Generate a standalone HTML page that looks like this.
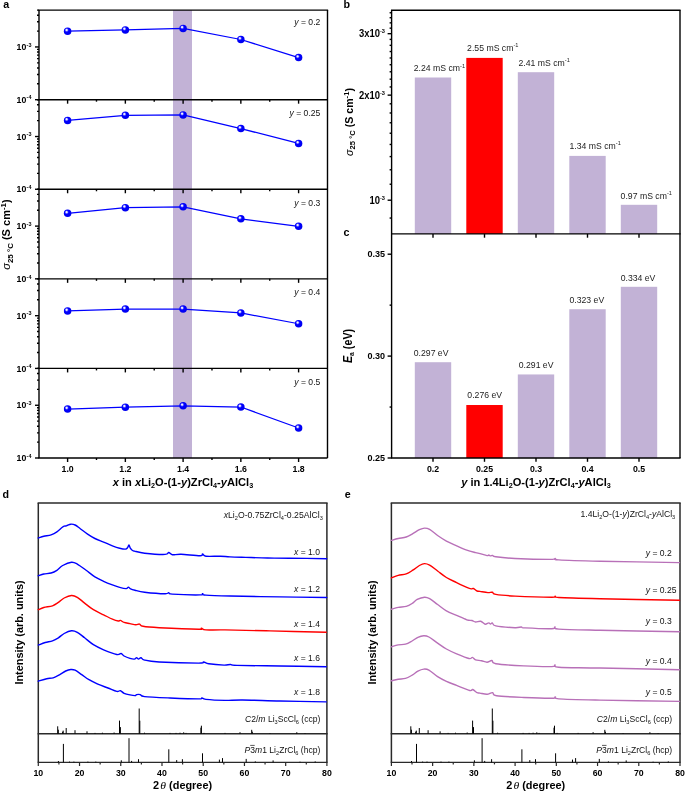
<!DOCTYPE html><html><head><meta charset="utf-8"><style>html,body{margin:0;padding:0;background:#fff;}svg{display:block;font-family:"Liberation Sans",sans-serif;will-change:transform;}</style></head><body><svg width="685" height="792" viewBox="0 0 685 792" font-family="Liberation Sans, sans-serif">
<defs><radialGradient id="sph" cx="0.4" cy="0.38" r="0.62" fx="0.36" fy="0.33"><stop offset="0" stop-color="#FFFFFF"/><stop offset="0.16" stop-color="#E0E0FF"/><stop offset="0.3" stop-color="#5050FF"/><stop offset="0.45" stop-color="#0000FF"/><stop offset="1" stop-color="#0000EE"/></radialGradient></defs>
<rect width="685" height="792" fill="#fff"/>
<rect x="173" y="10.1" width="19" height="447.9" fill="#C2B2D6"/>
<line x1="35" y1="99.68" x2="39" y2="99.68" stroke="#000" stroke-width="1.4"/>
<line x1="37" y1="83.81" x2="39" y2="83.81" stroke="#000" stroke-width="1.4"/>
<line x1="37" y1="74.52" x2="39" y2="74.52" stroke="#000" stroke-width="1.4"/>
<line x1="37" y1="67.94" x2="39" y2="67.94" stroke="#000" stroke-width="1.4"/>
<line x1="37" y1="62.83" x2="39" y2="62.83" stroke="#000" stroke-width="1.4"/>
<line x1="37" y1="58.65" x2="39" y2="58.65" stroke="#000" stroke-width="1.4"/>
<line x1="37" y1="55.12" x2="39" y2="55.12" stroke="#000" stroke-width="1.4"/>
<line x1="37" y1="52.06" x2="39" y2="52.06" stroke="#000" stroke-width="1.4"/>
<line x1="37" y1="49.37" x2="39" y2="49.37" stroke="#000" stroke-width="1.4"/>
<line x1="35" y1="46.95" x2="39" y2="46.95" stroke="#000" stroke-width="1.4"/>
<line x1="37" y1="31.08" x2="39" y2="31.08" stroke="#000" stroke-width="1.4"/>
<line x1="37" y1="21.8" x2="39" y2="21.8" stroke="#000" stroke-width="1.4"/>
<line x1="37" y1="15.21" x2="39" y2="15.21" stroke="#000" stroke-width="1.4"/>
<line x1="37" y1="10.1" x2="39" y2="10.1" stroke="#000" stroke-width="1.4"/>
<text transform="translate(26.3,50.15) scale(0.975,1.07)" font-size="9" text-anchor="end" font-weight="bold" font-style="normal" >10</text>
<text transform="translate(26.6,46.65) scale(0.975,1.07)" font-size="5.6" text-anchor="start" font-weight="bold" font-style="normal" >-3</text>
<text transform="translate(26.3,102.88) scale(0.975,1.07)" font-size="9" text-anchor="end" font-weight="bold" font-style="normal" >10</text>
<text transform="translate(26.6,99.38) scale(0.975,1.07)" font-size="5.6" text-anchor="start" font-weight="bold" font-style="normal" >-4</text>
<line x1="67.6" y1="99.68" x2="67.6" y2="103.68" stroke="#000" stroke-width="1.4"/>
<line x1="96.48" y1="99.68" x2="96.48" y2="101.68" stroke="#000" stroke-width="1.4"/>
<line x1="125.35" y1="99.68" x2="125.35" y2="103.68" stroke="#000" stroke-width="1.4"/>
<line x1="154.23" y1="99.68" x2="154.23" y2="101.68" stroke="#000" stroke-width="1.4"/>
<line x1="183.1" y1="99.68" x2="183.1" y2="103.68" stroke="#000" stroke-width="1.4"/>
<line x1="211.97" y1="99.68" x2="211.97" y2="101.68" stroke="#000" stroke-width="1.4"/>
<line x1="240.85" y1="99.68" x2="240.85" y2="103.68" stroke="#000" stroke-width="1.4"/>
<line x1="269.73" y1="99.68" x2="269.73" y2="101.68" stroke="#000" stroke-width="1.4"/>
<line x1="298.6" y1="99.68" x2="298.6" y2="103.68" stroke="#000" stroke-width="1.4"/>
<polyline points="67.6,31.2 125.35,29.9 183.1,28.4 240.85,39.5 298.6,57.6" fill="none" stroke="#0000FF" stroke-width="1.25"/>
<circle cx="67.6" cy="31.2" r="3.75" fill="url(#sph)"/>
<circle cx="125.35" cy="29.9" r="3.75" fill="url(#sph)"/>
<circle cx="183.1" cy="28.4" r="3.75" fill="url(#sph)"/>
<circle cx="240.85" cy="39.5" r="3.75" fill="url(#sph)"/>
<circle cx="298.6" cy="57.6" r="3.75" fill="url(#sph)"/>
<text transform="translate(320.3,24.9) scale(0.975,1.07)" font-size="8.8" text-anchor="end" fill="#111"><tspan font-style="italic">y</tspan> = 0.2</text>
<line x1="38.4" y1="99.68" x2="327.5" y2="99.68" stroke="#000" stroke-width="1.4"/>
<line x1="35" y1="189.26" x2="39" y2="189.26" stroke="#000" stroke-width="1.4"/>
<line x1="37" y1="173.39" x2="39" y2="173.39" stroke="#000" stroke-width="1.4"/>
<line x1="37" y1="164.1" x2="39" y2="164.1" stroke="#000" stroke-width="1.4"/>
<line x1="37" y1="157.52" x2="39" y2="157.52" stroke="#000" stroke-width="1.4"/>
<line x1="37" y1="152.41" x2="39" y2="152.41" stroke="#000" stroke-width="1.4"/>
<line x1="37" y1="148.23" x2="39" y2="148.23" stroke="#000" stroke-width="1.4"/>
<line x1="37" y1="144.7" x2="39" y2="144.7" stroke="#000" stroke-width="1.4"/>
<line x1="37" y1="141.64" x2="39" y2="141.64" stroke="#000" stroke-width="1.4"/>
<line x1="37" y1="138.95" x2="39" y2="138.95" stroke="#000" stroke-width="1.4"/>
<line x1="35" y1="136.53" x2="39" y2="136.53" stroke="#000" stroke-width="1.4"/>
<line x1="37" y1="120.66" x2="39" y2="120.66" stroke="#000" stroke-width="1.4"/>
<line x1="37" y1="111.38" x2="39" y2="111.38" stroke="#000" stroke-width="1.4"/>
<line x1="37" y1="104.79" x2="39" y2="104.79" stroke="#000" stroke-width="1.4"/>
<line x1="37" y1="99.68" x2="39" y2="99.68" stroke="#000" stroke-width="1.4"/>
<text transform="translate(26.3,139.73) scale(0.975,1.07)" font-size="9" text-anchor="end" font-weight="bold" font-style="normal" >10</text>
<text transform="translate(26.6,136.23) scale(0.975,1.07)" font-size="5.6" text-anchor="start" font-weight="bold" font-style="normal" >-3</text>
<text transform="translate(26.3,192.46) scale(0.975,1.07)" font-size="9" text-anchor="end" font-weight="bold" font-style="normal" >10</text>
<text transform="translate(26.6,188.96) scale(0.975,1.07)" font-size="5.6" text-anchor="start" font-weight="bold" font-style="normal" >-4</text>
<line x1="67.6" y1="189.26" x2="67.6" y2="193.26" stroke="#000" stroke-width="1.4"/>
<line x1="96.48" y1="189.26" x2="96.48" y2="191.26" stroke="#000" stroke-width="1.4"/>
<line x1="125.35" y1="189.26" x2="125.35" y2="193.26" stroke="#000" stroke-width="1.4"/>
<line x1="154.23" y1="189.26" x2="154.23" y2="191.26" stroke="#000" stroke-width="1.4"/>
<line x1="183.1" y1="189.26" x2="183.1" y2="193.26" stroke="#000" stroke-width="1.4"/>
<line x1="211.97" y1="189.26" x2="211.97" y2="191.26" stroke="#000" stroke-width="1.4"/>
<line x1="240.85" y1="189.26" x2="240.85" y2="193.26" stroke="#000" stroke-width="1.4"/>
<line x1="269.73" y1="189.26" x2="269.73" y2="191.26" stroke="#000" stroke-width="1.4"/>
<line x1="298.6" y1="189.26" x2="298.6" y2="193.26" stroke="#000" stroke-width="1.4"/>
<polyline points="67.6,120.48 125.35,115.28 183.1,114.88 240.85,128.58 298.6,143.48" fill="none" stroke="#0000FF" stroke-width="1.25"/>
<circle cx="67.6" cy="120.48" r="3.75" fill="url(#sph)"/>
<circle cx="125.35" cy="115.28" r="3.75" fill="url(#sph)"/>
<circle cx="183.1" cy="114.88" r="3.75" fill="url(#sph)"/>
<circle cx="240.85" cy="128.58" r="3.75" fill="url(#sph)"/>
<circle cx="298.6" cy="143.48" r="3.75" fill="url(#sph)"/>
<text transform="translate(320.3,116.1) scale(0.975,1.07)" font-size="8.8" text-anchor="end" fill="#111"><tspan font-style="italic">y</tspan> = 0.25</text>
<line x1="38.4" y1="189.26" x2="327.5" y2="189.26" stroke="#000" stroke-width="1.4"/>
<line x1="35" y1="278.84" x2="39" y2="278.84" stroke="#000" stroke-width="1.4"/>
<line x1="37" y1="262.97" x2="39" y2="262.97" stroke="#000" stroke-width="1.4"/>
<line x1="37" y1="253.68" x2="39" y2="253.68" stroke="#000" stroke-width="1.4"/>
<line x1="37" y1="247.1" x2="39" y2="247.1" stroke="#000" stroke-width="1.4"/>
<line x1="37" y1="241.99" x2="39" y2="241.99" stroke="#000" stroke-width="1.4"/>
<line x1="37" y1="237.81" x2="39" y2="237.81" stroke="#000" stroke-width="1.4"/>
<line x1="37" y1="234.28" x2="39" y2="234.28" stroke="#000" stroke-width="1.4"/>
<line x1="37" y1="231.22" x2="39" y2="231.22" stroke="#000" stroke-width="1.4"/>
<line x1="37" y1="228.53" x2="39" y2="228.53" stroke="#000" stroke-width="1.4"/>
<line x1="35" y1="226.11" x2="39" y2="226.11" stroke="#000" stroke-width="1.4"/>
<line x1="37" y1="210.24" x2="39" y2="210.24" stroke="#000" stroke-width="1.4"/>
<line x1="37" y1="200.96" x2="39" y2="200.96" stroke="#000" stroke-width="1.4"/>
<line x1="37" y1="194.37" x2="39" y2="194.37" stroke="#000" stroke-width="1.4"/>
<line x1="37" y1="189.26" x2="39" y2="189.26" stroke="#000" stroke-width="1.4"/>
<text transform="translate(26.3,229.31) scale(0.975,1.07)" font-size="9" text-anchor="end" font-weight="bold" font-style="normal" >10</text>
<text transform="translate(26.6,225.81) scale(0.975,1.07)" font-size="5.6" text-anchor="start" font-weight="bold" font-style="normal" >-3</text>
<text transform="translate(26.3,282.04) scale(0.975,1.07)" font-size="9" text-anchor="end" font-weight="bold" font-style="normal" >10</text>
<text transform="translate(26.6,278.54) scale(0.975,1.07)" font-size="5.6" text-anchor="start" font-weight="bold" font-style="normal" >-4</text>
<line x1="67.6" y1="278.84" x2="67.6" y2="282.84" stroke="#000" stroke-width="1.4"/>
<line x1="96.48" y1="278.84" x2="96.48" y2="280.84" stroke="#000" stroke-width="1.4"/>
<line x1="125.35" y1="278.84" x2="125.35" y2="282.84" stroke="#000" stroke-width="1.4"/>
<line x1="154.23" y1="278.84" x2="154.23" y2="280.84" stroke="#000" stroke-width="1.4"/>
<line x1="183.1" y1="278.84" x2="183.1" y2="282.84" stroke="#000" stroke-width="1.4"/>
<line x1="211.97" y1="278.84" x2="211.97" y2="280.84" stroke="#000" stroke-width="1.4"/>
<line x1="240.85" y1="278.84" x2="240.85" y2="282.84" stroke="#000" stroke-width="1.4"/>
<line x1="269.73" y1="278.84" x2="269.73" y2="280.84" stroke="#000" stroke-width="1.4"/>
<line x1="298.6" y1="278.84" x2="298.6" y2="282.84" stroke="#000" stroke-width="1.4"/>
<polyline points="67.6,213.36 125.35,207.66 183.1,206.86 240.85,218.86 298.6,226.26" fill="none" stroke="#0000FF" stroke-width="1.25"/>
<circle cx="67.6" cy="213.36" r="3.75" fill="url(#sph)"/>
<circle cx="125.35" cy="207.66" r="3.75" fill="url(#sph)"/>
<circle cx="183.1" cy="206.86" r="3.75" fill="url(#sph)"/>
<circle cx="240.85" cy="218.86" r="3.75" fill="url(#sph)"/>
<circle cx="298.6" cy="226.26" r="3.75" fill="url(#sph)"/>
<text transform="translate(320.3,206.1) scale(0.975,1.07)" font-size="8.8" text-anchor="end" fill="#111"><tspan font-style="italic">y</tspan> = 0.3</text>
<line x1="38.4" y1="278.84" x2="327.5" y2="278.84" stroke="#000" stroke-width="1.4"/>
<line x1="35" y1="368.42" x2="39" y2="368.42" stroke="#000" stroke-width="1.4"/>
<line x1="37" y1="352.55" x2="39" y2="352.55" stroke="#000" stroke-width="1.4"/>
<line x1="37" y1="343.26" x2="39" y2="343.26" stroke="#000" stroke-width="1.4"/>
<line x1="37" y1="336.68" x2="39" y2="336.68" stroke="#000" stroke-width="1.4"/>
<line x1="37" y1="331.57" x2="39" y2="331.57" stroke="#000" stroke-width="1.4"/>
<line x1="37" y1="327.39" x2="39" y2="327.39" stroke="#000" stroke-width="1.4"/>
<line x1="37" y1="323.86" x2="39" y2="323.86" stroke="#000" stroke-width="1.4"/>
<line x1="37" y1="320.8" x2="39" y2="320.8" stroke="#000" stroke-width="1.4"/>
<line x1="37" y1="318.11" x2="39" y2="318.11" stroke="#000" stroke-width="1.4"/>
<line x1="35" y1="315.69" x2="39" y2="315.69" stroke="#000" stroke-width="1.4"/>
<line x1="37" y1="299.82" x2="39" y2="299.82" stroke="#000" stroke-width="1.4"/>
<line x1="37" y1="290.54" x2="39" y2="290.54" stroke="#000" stroke-width="1.4"/>
<line x1="37" y1="283.95" x2="39" y2="283.95" stroke="#000" stroke-width="1.4"/>
<line x1="37" y1="278.84" x2="39" y2="278.84" stroke="#000" stroke-width="1.4"/>
<text transform="translate(26.3,318.89) scale(0.975,1.07)" font-size="9" text-anchor="end" font-weight="bold" font-style="normal" >10</text>
<text transform="translate(26.6,315.39) scale(0.975,1.07)" font-size="5.6" text-anchor="start" font-weight="bold" font-style="normal" >-3</text>
<text transform="translate(26.3,371.62) scale(0.975,1.07)" font-size="9" text-anchor="end" font-weight="bold" font-style="normal" >10</text>
<text transform="translate(26.6,368.12) scale(0.975,1.07)" font-size="5.6" text-anchor="start" font-weight="bold" font-style="normal" >-4</text>
<line x1="67.6" y1="368.42" x2="67.6" y2="372.42" stroke="#000" stroke-width="1.4"/>
<line x1="96.48" y1="368.42" x2="96.48" y2="370.42" stroke="#000" stroke-width="1.4"/>
<line x1="125.35" y1="368.42" x2="125.35" y2="372.42" stroke="#000" stroke-width="1.4"/>
<line x1="154.23" y1="368.42" x2="154.23" y2="370.42" stroke="#000" stroke-width="1.4"/>
<line x1="183.1" y1="368.42" x2="183.1" y2="372.42" stroke="#000" stroke-width="1.4"/>
<line x1="211.97" y1="368.42" x2="211.97" y2="370.42" stroke="#000" stroke-width="1.4"/>
<line x1="240.85" y1="368.42" x2="240.85" y2="372.42" stroke="#000" stroke-width="1.4"/>
<line x1="269.73" y1="368.42" x2="269.73" y2="370.42" stroke="#000" stroke-width="1.4"/>
<line x1="298.6" y1="368.42" x2="298.6" y2="372.42" stroke="#000" stroke-width="1.4"/>
<polyline points="67.6,310.94 125.35,309.04 183.1,309.04 240.85,312.94 298.6,323.74" fill="none" stroke="#0000FF" stroke-width="1.25"/>
<circle cx="67.6" cy="310.94" r="3.75" fill="url(#sph)"/>
<circle cx="125.35" cy="309.04" r="3.75" fill="url(#sph)"/>
<circle cx="183.1" cy="309.04" r="3.75" fill="url(#sph)"/>
<circle cx="240.85" cy="312.94" r="3.75" fill="url(#sph)"/>
<circle cx="298.6" cy="323.74" r="3.75" fill="url(#sph)"/>
<text transform="translate(320.3,295.4) scale(0.975,1.07)" font-size="8.8" text-anchor="end" fill="#111"><tspan font-style="italic">y</tspan> = 0.4</text>
<line x1="38.4" y1="368.42" x2="327.5" y2="368.42" stroke="#000" stroke-width="1.4"/>
<line x1="35" y1="458" x2="39" y2="458" stroke="#000" stroke-width="1.4"/>
<line x1="37" y1="442.13" x2="39" y2="442.13" stroke="#000" stroke-width="1.4"/>
<line x1="37" y1="432.84" x2="39" y2="432.84" stroke="#000" stroke-width="1.4"/>
<line x1="37" y1="426.26" x2="39" y2="426.26" stroke="#000" stroke-width="1.4"/>
<line x1="37" y1="421.15" x2="39" y2="421.15" stroke="#000" stroke-width="1.4"/>
<line x1="37" y1="416.97" x2="39" y2="416.97" stroke="#000" stroke-width="1.4"/>
<line x1="37" y1="413.44" x2="39" y2="413.44" stroke="#000" stroke-width="1.4"/>
<line x1="37" y1="410.38" x2="39" y2="410.38" stroke="#000" stroke-width="1.4"/>
<line x1="37" y1="407.69" x2="39" y2="407.69" stroke="#000" stroke-width="1.4"/>
<line x1="35" y1="405.27" x2="39" y2="405.27" stroke="#000" stroke-width="1.4"/>
<line x1="37" y1="389.4" x2="39" y2="389.4" stroke="#000" stroke-width="1.4"/>
<line x1="37" y1="380.12" x2="39" y2="380.12" stroke="#000" stroke-width="1.4"/>
<line x1="37" y1="373.53" x2="39" y2="373.53" stroke="#000" stroke-width="1.4"/>
<line x1="37" y1="368.42" x2="39" y2="368.42" stroke="#000" stroke-width="1.4"/>
<text transform="translate(26.3,408.47) scale(0.975,1.07)" font-size="9" text-anchor="end" font-weight="bold" font-style="normal" >10</text>
<text transform="translate(26.6,404.97) scale(0.975,1.07)" font-size="5.6" text-anchor="start" font-weight="bold" font-style="normal" >-3</text>
<text transform="translate(26.3,461.2) scale(0.975,1.07)" font-size="9" text-anchor="end" font-weight="bold" font-style="normal" >10</text>
<text transform="translate(26.6,457.7) scale(0.975,1.07)" font-size="5.6" text-anchor="start" font-weight="bold" font-style="normal" >-4</text>
<line x1="67.6" y1="458" x2="67.6" y2="462" stroke="#000" stroke-width="1.4"/>
<line x1="96.48" y1="458" x2="96.48" y2="460" stroke="#000" stroke-width="1.4"/>
<line x1="125.35" y1="458" x2="125.35" y2="462" stroke="#000" stroke-width="1.4"/>
<line x1="154.23" y1="458" x2="154.23" y2="460" stroke="#000" stroke-width="1.4"/>
<line x1="183.1" y1="458" x2="183.1" y2="462" stroke="#000" stroke-width="1.4"/>
<line x1="211.97" y1="458" x2="211.97" y2="460" stroke="#000" stroke-width="1.4"/>
<line x1="240.85" y1="458" x2="240.85" y2="462" stroke="#000" stroke-width="1.4"/>
<line x1="269.73" y1="458" x2="269.73" y2="460" stroke="#000" stroke-width="1.4"/>
<line x1="298.6" y1="458" x2="298.6" y2="462" stroke="#000" stroke-width="1.4"/>
<polyline points="67.6,409.02 125.35,407.22 183.1,405.82 240.85,407.02 298.6,428.02" fill="none" stroke="#0000FF" stroke-width="1.25"/>
<circle cx="67.6" cy="409.02" r="3.75" fill="url(#sph)"/>
<circle cx="125.35" cy="407.22" r="3.75" fill="url(#sph)"/>
<circle cx="183.1" cy="405.82" r="3.75" fill="url(#sph)"/>
<circle cx="240.85" cy="407.02" r="3.75" fill="url(#sph)"/>
<circle cx="298.6" cy="428.02" r="3.75" fill="url(#sph)"/>
<text transform="translate(320.3,384.8) scale(0.975,1.07)" font-size="8.8" text-anchor="end" fill="#111"><tspan font-style="italic">y</tspan> = 0.5</text>
<line x1="38.4" y1="458" x2="327.5" y2="458" stroke="#000" stroke-width="1.4"/>
<line x1="38.4" y1="10.1" x2="328.1" y2="10.1" stroke="#000" stroke-width="1.4"/>
<line x1="39" y1="10.1" x2="39" y2="458" stroke="#000" stroke-width="1.4"/>
<line x1="327.5" y1="10.1" x2="327.5" y2="458" stroke="#000" stroke-width="1.4"/>
<text transform="translate(67.6,472.3) scale(0.975,1.07)" font-size="9" text-anchor="middle" font-weight="bold" font-style="normal" >1.0</text>
<text transform="translate(125.35,472.3) scale(0.975,1.07)" font-size="9" text-anchor="middle" font-weight="bold" font-style="normal" >1.2</text>
<text transform="translate(183.1,472.3) scale(0.975,1.07)" font-size="9" text-anchor="middle" font-weight="bold" font-style="normal" >1.4</text>
<text transform="translate(240.85,472.3) scale(0.975,1.07)" font-size="9" text-anchor="middle" font-weight="bold" font-style="normal" >1.6</text>
<text transform="translate(298.6,472.3) scale(0.975,1.07)" font-size="9" text-anchor="middle" font-weight="bold" font-style="normal" >1.8</text>
<text transform="translate(183,485.8) scale(0.975,0.88)" font-size="11.4" font-weight="bold" text-anchor="middle" class="t"><tspan font-style="italic">x</tspan> in <tspan font-style="italic">x</tspan>Li<tspan font-size="7.4" dy="3">2</tspan><tspan dy="-3">O-(1-</tspan><tspan font-style="italic">y</tspan>)ZrCl<tspan font-size="7.4" dy="3">4</tspan><tspan dy="-3">-</tspan><tspan font-style="italic">y</tspan>AlCl<tspan font-size="7.4" dy="3">3</tspan></text>
<text transform="translate(9.9,234.6) rotate(-90)" x="0" y="0" font-size="11.0" font-weight="bold" text-anchor="middle"><tspan font-style="italic" font-weight="normal" font-size="11.22">σ</tspan><tspan font-size="7.96" dy="2.6">25 °C</tspan><tspan dy="-2.6"> (S cm</tspan><tspan font-size="7.96" dy="-4">-1</tspan><tspan dy="4">)</tspan></text>
<text transform="translate(3.3,8.1) scale(0.975,1.07)" font-size="11" text-anchor="start" font-weight="bold" font-style="normal" >a</text>
<rect x="414.8" y="77.5" width="36.4" height="156.4" fill="#C2B2D6"/>
<rect x="466.3" y="57.9" width="36.4" height="176" fill="#FF0000"/>
<rect x="517.8" y="72.2" width="36.4" height="161.7" fill="#C2B2D6"/>
<rect x="569.3" y="155.9" width="36.4" height="78" fill="#C2B2D6"/>
<rect x="620.8" y="204.8" width="36.4" height="29.1" fill="#C2B2D6"/>
<text transform="translate(413.7,71.4) scale(0.975,1.07)" font-size="8.9" text-anchor="start" fill="#222">2.24 mS cm<tspan font-size="5.8" dy="-3.4">-1</tspan></text>
<text transform="translate(467.1,50.7) scale(0.975,1.07)" font-size="8.9" text-anchor="start" fill="#222">2.55 mS cm<tspan font-size="5.8" dy="-3.4">-1</tspan></text>
<text transform="translate(518.5,66.1) scale(0.975,1.07)" font-size="8.9" text-anchor="start" fill="#222">2.41 mS cm<tspan font-size="5.8" dy="-3.4">-1</tspan></text>
<text transform="translate(569.45,148.9) scale(0.975,1.07)" font-size="8.9" text-anchor="start" fill="#222">1.34 mS cm<tspan font-size="5.8" dy="-3.4">-1</tspan></text>
<text transform="translate(620.6,198.7) scale(0.975,1.07)" font-size="8.9" text-anchor="start" fill="#222">0.97 mS cm<tspan font-size="5.8" dy="-3.4">-1</tspan></text>
<line x1="387.6" y1="200.2" x2="391.6" y2="200.2" stroke="#000" stroke-width="1.4"/>
<line x1="389.6" y1="184.23" x2="391.6" y2="184.23" stroke="#000" stroke-width="1.4"/>
<line x1="389.6" y1="169.78" x2="391.6" y2="169.78" stroke="#000" stroke-width="1.4"/>
<line x1="389.6" y1="156.6" x2="391.6" y2="156.6" stroke="#000" stroke-width="1.4"/>
<line x1="389.6" y1="144.46" x2="391.6" y2="144.46" stroke="#000" stroke-width="1.4"/>
<line x1="389.6" y1="133.23" x2="391.6" y2="133.23" stroke="#000" stroke-width="1.4"/>
<line x1="389.6" y1="122.77" x2="391.6" y2="122.77" stroke="#000" stroke-width="1.4"/>
<line x1="389.6" y1="112.99" x2="391.6" y2="112.99" stroke="#000" stroke-width="1.4"/>
<line x1="389.6" y1="103.8" x2="391.6" y2="103.8" stroke="#000" stroke-width="1.4"/>
<line x1="387.6" y1="95.14" x2="391.6" y2="95.14" stroke="#000" stroke-width="1.4"/>
<line x1="389.6" y1="86.95" x2="391.6" y2="86.95" stroke="#000" stroke-width="1.4"/>
<line x1="389.6" y1="79.17" x2="391.6" y2="79.17" stroke="#000" stroke-width="1.4"/>
<line x1="389.6" y1="71.78" x2="391.6" y2="71.78" stroke="#000" stroke-width="1.4"/>
<line x1="389.6" y1="64.73" x2="391.6" y2="64.73" stroke="#000" stroke-width="1.4"/>
<line x1="389.6" y1="57.99" x2="391.6" y2="57.99" stroke="#000" stroke-width="1.4"/>
<line x1="389.6" y1="51.54" x2="391.6" y2="51.54" stroke="#000" stroke-width="1.4"/>
<line x1="389.6" y1="45.35" x2="391.6" y2="45.35" stroke="#000" stroke-width="1.4"/>
<line x1="389.6" y1="39.4" x2="391.6" y2="39.4" stroke="#000" stroke-width="1.4"/>
<line x1="387.6" y1="33.68" x2="391.6" y2="33.68" stroke="#000" stroke-width="1.4"/>
<line x1="389.6" y1="28.17" x2="391.6" y2="28.17" stroke="#000" stroke-width="1.4"/>
<line x1="389.6" y1="22.85" x2="391.6" y2="22.85" stroke="#000" stroke-width="1.4"/>
<line x1="389.6" y1="17.72" x2="391.6" y2="17.72" stroke="#000" stroke-width="1.4"/>
<line x1="389.6" y1="12.75" x2="391.6" y2="12.75" stroke="#000" stroke-width="1.4"/>
<line x1="389.6" y1="218.05" x2="391.6" y2="218.05" stroke="#000" stroke-width="1.4"/>
<text transform="translate(385,37.08) scale(0.975,1.07)" font-size="9.7" font-weight="bold" text-anchor="end">3x10<tspan font-size="5.8" dy="-3.7">-3</tspan></text>
<text transform="translate(385,98.54) scale(0.975,1.07)" font-size="9.7" font-weight="bold" text-anchor="end">2x10<tspan font-size="5.8" dy="-3.7">-3</tspan></text>
<text transform="translate(385,203.6) scale(0.975,1.07)" font-size="9.7" font-weight="bold" text-anchor="end">10<tspan font-size="5.8" dy="-3.7">-3</tspan></text>
<line x1="433" y1="233.9" x2="433" y2="237.7" stroke="#000" stroke-width="1.4"/>
<line x1="484.5" y1="233.9" x2="484.5" y2="237.7" stroke="#000" stroke-width="1.4"/>
<line x1="536" y1="233.9" x2="536" y2="237.7" stroke="#000" stroke-width="1.4"/>
<line x1="587.5" y1="233.9" x2="587.5" y2="237.7" stroke="#000" stroke-width="1.4"/>
<line x1="639" y1="233.9" x2="639" y2="237.7" stroke="#000" stroke-width="1.4"/>
<line x1="391" y1="10.3" x2="680.6" y2="10.3" stroke="#000" stroke-width="1.4"/>
<line x1="391.6" y1="10.3" x2="391.6" y2="458" stroke="#000" stroke-width="1.4"/>
<line x1="680" y1="10.3" x2="680" y2="458" stroke="#000" stroke-width="1.4"/>
<line x1="391" y1="233.9" x2="680.6" y2="233.9" stroke="#000" stroke-width="1.4"/>
<text transform="translate(352.8,122) rotate(-90)" x="0" y="0" font-size="10.6" font-weight="bold" text-anchor="middle"><tspan font-style="italic" font-weight="normal" font-size="10.81">σ</tspan><tspan font-size="7.67" dy="2.6">25 °C</tspan><tspan dy="-2.6"> (S cm</tspan><tspan font-size="7.67" dy="-4">-1</tspan><tspan dy="4">)</tspan></text>
<text transform="translate(343.4,7.9) scale(0.975,1.07)" font-size="11" text-anchor="start" font-weight="bold" font-style="normal" >b</text>
<rect x="414.8" y="362.21" width="36.4" height="95.79" fill="#C2B2D6"/>
<text transform="translate(413.75,355.8) scale(0.975,1.07)" font-size="8.9" text-anchor="start" font-weight="normal" font-style="normal" fill="#222">0.297 eV</text>
<rect x="466.3" y="405.01" width="36.4" height="52.99" fill="#FF0000"/>
<text transform="translate(467.35,398.1) scale(0.975,1.07)" font-size="8.9" text-anchor="start" font-weight="normal" font-style="normal" fill="#222">0.276 eV</text>
<rect x="517.8" y="374.44" width="36.4" height="83.56" fill="#C2B2D6"/>
<text transform="translate(518.75,367.5) scale(0.975,1.07)" font-size="8.9" text-anchor="start" font-weight="normal" font-style="normal" fill="#222">0.291 eV</text>
<rect x="569.3" y="309.23" width="36.4" height="148.77" fill="#C2B2D6"/>
<text transform="translate(569.45,303.1) scale(0.975,1.07)" font-size="8.9" text-anchor="start" font-weight="normal" font-style="normal" fill="#222">0.323 eV</text>
<rect x="620.8" y="286.81" width="36.4" height="171.19" fill="#C2B2D6"/>
<text transform="translate(620.65,281) scale(0.975,1.07)" font-size="8.9" text-anchor="start" font-weight="normal" font-style="normal" fill="#222">0.334 eV</text>
<line x1="387.6" y1="458" x2="391.6" y2="458" stroke="#000" stroke-width="1.4"/>
<text transform="translate(385,460.6) scale(0.975,1.07)" font-size="9.3" text-anchor="end" font-weight="bold" font-style="normal" >0.25</text>
<line x1="387.6" y1="356.1" x2="391.6" y2="356.1" stroke="#000" stroke-width="1.4"/>
<text transform="translate(385,358.7) scale(0.975,1.07)" font-size="9.3" text-anchor="end" font-weight="bold" font-style="normal" >0.30</text>
<line x1="387.6" y1="254.2" x2="391.6" y2="254.2" stroke="#000" stroke-width="1.4"/>
<text transform="translate(385,256.8) scale(0.975,1.07)" font-size="9.3" text-anchor="end" font-weight="bold" font-style="normal" >0.35</text>
<line x1="389.6" y1="407.05" x2="391.6" y2="407.05" stroke="#000" stroke-width="1.4"/>
<line x1="389.6" y1="305.15" x2="391.6" y2="305.15" stroke="#000" stroke-width="1.4"/>
<line x1="391" y1="458" x2="680.6" y2="458" stroke="#000" stroke-width="1.4"/>
<line x1="433" y1="458" x2="433" y2="461.8" stroke="#000" stroke-width="1.4"/>
<line x1="484.5" y1="458" x2="484.5" y2="461.8" stroke="#000" stroke-width="1.4"/>
<line x1="536" y1="458" x2="536" y2="461.8" stroke="#000" stroke-width="1.4"/>
<line x1="587.5" y1="458" x2="587.5" y2="461.8" stroke="#000" stroke-width="1.4"/>
<line x1="639" y1="458" x2="639" y2="461.8" stroke="#000" stroke-width="1.4"/>
<text transform="translate(433,472.3) scale(0.975,1.07)" font-size="9" text-anchor="middle" font-weight="bold" font-style="normal" >0.2</text>
<text transform="translate(484.5,472.3) scale(0.975,1.07)" font-size="9" text-anchor="middle" font-weight="bold" font-style="normal" >0.25</text>
<text transform="translate(536,472.3) scale(0.975,1.07)" font-size="9" text-anchor="middle" font-weight="bold" font-style="normal" >0.3</text>
<text transform="translate(587.5,472.3) scale(0.975,1.07)" font-size="9" text-anchor="middle" font-weight="bold" font-style="normal" >0.4</text>
<text transform="translate(639,472.3) scale(0.975,1.07)" font-size="9" text-anchor="middle" font-weight="bold" font-style="normal" >0.5</text>
<text transform="translate(536,485.8) scale(0.975,0.88)" font-size="11.4" font-weight="bold" text-anchor="middle" class="t"><tspan font-style="italic">y</tspan> in 1.4Li<tspan font-size="7.4" dy="3">2</tspan><tspan dy="-3">O-(1-</tspan><tspan font-style="italic">y</tspan>)ZrCl<tspan font-size="7.4" dy="3">4</tspan><tspan dy="-3">-</tspan><tspan font-style="italic">y</tspan>AlCl<tspan font-size="7.4" dy="3">3</tspan></text>
<text transform="translate(351.8,346) rotate(-90) scale(0.975,1.15)" font-size="11" font-weight="bold" text-anchor="middle" class="ea"><tspan font-style="italic">E</tspan><tspan font-size="7" dy="1.8">a</tspan><tspan dy="-1.8"> (eV)</tspan></text>
<text transform="translate(343.6,236.3) scale(0.975,1.07)" font-size="11" text-anchor="start" font-weight="bold" font-style="normal" >c</text>
<line x1="37.6" y1="503" x2="327.6" y2="503" stroke="#2a2a2a" stroke-width="1.5"/>
<line x1="38.3" y1="503" x2="38.3" y2="762.4" stroke="#2a2a2a" stroke-width="1.5"/>
<line x1="326.9" y1="503" x2="326.9" y2="762.4" stroke="#2a2a2a" stroke-width="1.5"/>
<line x1="37.6" y1="733.7" x2="327.6" y2="733.7" stroke="#2a2a2a" stroke-width="1.4"/>
<line x1="37.6" y1="762.4" x2="327.6" y2="762.4" stroke="#2a2a2a" stroke-width="1.4"/>
<line x1="38.3" y1="762.4" x2="38.3" y2="766" stroke="#2a2a2a" stroke-width="1.2"/>
<text transform="translate(38.3,776.2) scale(0.975,1.07)" font-size="9" text-anchor="middle" font-weight="bold" font-style="normal" >10</text>
<line x1="58.91" y1="762.4" x2="58.91" y2="764.4" stroke="#2a2a2a" stroke-width="1.2"/>
<line x1="79.53" y1="762.4" x2="79.53" y2="766" stroke="#2a2a2a" stroke-width="1.2"/>
<text transform="translate(79.53,776.2) scale(0.975,1.07)" font-size="9" text-anchor="middle" font-weight="bold" font-style="normal" >20</text>
<line x1="100.15" y1="762.4" x2="100.15" y2="764.4" stroke="#2a2a2a" stroke-width="1.2"/>
<line x1="120.76" y1="762.4" x2="120.76" y2="766" stroke="#2a2a2a" stroke-width="1.2"/>
<text transform="translate(120.76,776.2) scale(0.975,1.07)" font-size="9" text-anchor="middle" font-weight="bold" font-style="normal" >30</text>
<line x1="141.38" y1="762.4" x2="141.38" y2="764.4" stroke="#2a2a2a" stroke-width="1.2"/>
<line x1="161.99" y1="762.4" x2="161.99" y2="766" stroke="#2a2a2a" stroke-width="1.2"/>
<text transform="translate(161.99,776.2) scale(0.975,1.07)" font-size="9" text-anchor="middle" font-weight="bold" font-style="normal" >40</text>
<line x1="182.61" y1="762.4" x2="182.61" y2="764.4" stroke="#2a2a2a" stroke-width="1.2"/>
<line x1="203.22" y1="762.4" x2="203.22" y2="766" stroke="#2a2a2a" stroke-width="1.2"/>
<text transform="translate(203.22,776.2) scale(0.975,1.07)" font-size="9" text-anchor="middle" font-weight="bold" font-style="normal" >50</text>
<line x1="223.83" y1="762.4" x2="223.83" y2="764.4" stroke="#2a2a2a" stroke-width="1.2"/>
<line x1="244.45" y1="762.4" x2="244.45" y2="766" stroke="#2a2a2a" stroke-width="1.2"/>
<text transform="translate(244.45,776.2) scale(0.975,1.07)" font-size="9" text-anchor="middle" font-weight="bold" font-style="normal" >60</text>
<line x1="265.06" y1="762.4" x2="265.06" y2="764.4" stroke="#2a2a2a" stroke-width="1.2"/>
<line x1="285.68" y1="762.4" x2="285.68" y2="766" stroke="#2a2a2a" stroke-width="1.2"/>
<text transform="translate(285.68,776.2) scale(0.975,1.07)" font-size="9" text-anchor="middle" font-weight="bold" font-style="normal" >70</text>
<line x1="306.3" y1="762.4" x2="306.3" y2="764.4" stroke="#2a2a2a" stroke-width="1.2"/>
<line x1="326.91" y1="762.4" x2="326.91" y2="766" stroke="#2a2a2a" stroke-width="1.2"/>
<text transform="translate(326.91,776.2) scale(0.975,1.07)" font-size="9" text-anchor="middle" font-weight="bold" font-style="normal" >80</text>
<line x1="57.7" y1="733.7" x2="57.7" y2="726.3" stroke="#000" stroke-width="1.0"/>
<line x1="58.3" y1="733.7" x2="58.3" y2="729.7" stroke="#000" stroke-width="1.0"/>
<line x1="62.6" y1="733.7" x2="62.6" y2="731.7" stroke="#000" stroke-width="1.0"/>
<line x1="63.2" y1="733.7" x2="63.2" y2="730.6" stroke="#000" stroke-width="1.0"/>
<line x1="66.2" y1="733.7" x2="66.2" y2="728" stroke="#000" stroke-width="1.0"/>
<line x1="75" y1="733.7" x2="75" y2="730.2" stroke="#000" stroke-width="1.0"/>
<line x1="87" y1="733.7" x2="87" y2="731.3" stroke="#000" stroke-width="1.0"/>
<line x1="95" y1="733.7" x2="95" y2="732.9" stroke="#000" stroke-width="1.0"/>
<line x1="102.4" y1="733.7" x2="102.4" y2="732.7" stroke="#000" stroke-width="1.0"/>
<line x1="114.1" y1="733.7" x2="114.1" y2="732.5" stroke="#000" stroke-width="1.0"/>
<line x1="119.5" y1="733.7" x2="119.5" y2="720.6" stroke="#000" stroke-width="1.0"/>
<line x1="120.4" y1="733.7" x2="120.4" y2="727.1" stroke="#000" stroke-width="1.0"/>
<line x1="139.2" y1="733.7" x2="139.2" y2="708.5" stroke="#000" stroke-width="1.0"/>
<line x1="139.8" y1="733.7" x2="139.8" y2="720.7" stroke="#000" stroke-width="1.0"/>
<line x1="144.5" y1="733.7" x2="144.5" y2="732.7" stroke="#000" stroke-width="1.0"/>
<line x1="170" y1="733.7" x2="170" y2="732.9" stroke="#000" stroke-width="1.0"/>
<line x1="176" y1="733.7" x2="176" y2="732.9" stroke="#000" stroke-width="1.0"/>
<line x1="180" y1="733.7" x2="180" y2="732.7" stroke="#000" stroke-width="1.0"/>
<line x1="183.7" y1="733.7" x2="183.7" y2="732.3" stroke="#000" stroke-width="1.0"/>
<line x1="186" y1="733.7" x2="186" y2="732.9" stroke="#000" stroke-width="1.0"/>
<line x1="200.9" y1="733.7" x2="200.9" y2="727.7" stroke="#000" stroke-width="1.0"/>
<line x1="201.4" y1="733.7" x2="201.4" y2="725.7" stroke="#000" stroke-width="1.0"/>
<line x1="204" y1="733.7" x2="204" y2="732.9" stroke="#000" stroke-width="1.0"/>
<line x1="225" y1="733.7" x2="225" y2="732.9" stroke="#000" stroke-width="1.0"/>
<line x1="240" y1="733.7" x2="240" y2="732.2" stroke="#000" stroke-width="1.0"/>
<line x1="251.7" y1="733.7" x2="251.7" y2="729.8" stroke="#000" stroke-width="1.0"/>
<line x1="252.3" y1="733.7" x2="252.3" y2="731.7" stroke="#000" stroke-width="1.0"/>
<line x1="270" y1="733.7" x2="270" y2="733.1" stroke="#000" stroke-width="1.0"/>
<line x1="296.8" y1="733.7" x2="296.8" y2="732.2" stroke="#000" stroke-width="1.0"/>
<line x1="305" y1="733.7" x2="305" y2="733.1" stroke="#000" stroke-width="1.0"/>
<line x1="58.4" y1="762.4" x2="58.4" y2="761" stroke="#000" stroke-width="1.0"/>
<line x1="63.4" y1="762.4" x2="63.4" y2="743.9" stroke="#000" stroke-width="1.0"/>
<line x1="69.5" y1="762.4" x2="69.5" y2="761.6" stroke="#000" stroke-width="1.0"/>
<line x1="73.9" y1="762.4" x2="73.9" y2="761.6" stroke="#000" stroke-width="1.0"/>
<line x1="87.9" y1="762.4" x2="87.9" y2="761.6" stroke="#000" stroke-width="1.0"/>
<line x1="95.8" y1="762.4" x2="95.8" y2="761.6" stroke="#000" stroke-width="1.0"/>
<line x1="121.3" y1="762.4" x2="121.3" y2="760.3" stroke="#000" stroke-width="1.0"/>
<line x1="129" y1="762.4" x2="129" y2="738.2" stroke="#000" stroke-width="1.0"/>
<line x1="131.6" y1="762.4" x2="131.6" y2="760.9" stroke="#000" stroke-width="1.0"/>
<line x1="138.5" y1="762.4" x2="138.5" y2="759.2" stroke="#000" stroke-width="1.0"/>
<line x1="168.8" y1="762.4" x2="168.8" y2="749.3" stroke="#000" stroke-width="1.0"/>
<line x1="176.7" y1="762.4" x2="176.7" y2="760.1" stroke="#000" stroke-width="1.0"/>
<line x1="182.4" y1="762.4" x2="182.4" y2="759.2" stroke="#000" stroke-width="1.0"/>
<line x1="202.5" y1="762.4" x2="202.5" y2="753.3" stroke="#000" stroke-width="1.0"/>
<line x1="219.4" y1="762.4" x2="219.4" y2="759.6" stroke="#000" stroke-width="1.0"/>
<line x1="222.5" y1="762.4" x2="222.5" y2="758.1" stroke="#000" stroke-width="1.0"/>
<line x1="246.2" y1="762.4" x2="246.2" y2="758.9" stroke="#000" stroke-width="1.0"/>
<line x1="255.3" y1="762.4" x2="255.3" y2="761.4" stroke="#000" stroke-width="1.0"/>
<line x1="273.1" y1="762.4" x2="273.1" y2="760.4" stroke="#000" stroke-width="1.0"/>
<line x1="300" y1="762.4" x2="300" y2="761.7" stroke="#000" stroke-width="1.0"/>
<line x1="315.2" y1="762.4" x2="315.2" y2="761.4" stroke="#000" stroke-width="1.0"/>
<line x1="250.2" y1="745.4" x2="254.7" y2="745.4" stroke="#222" stroke-width="0.75"/>
<text transform="translate(182.6,788.9) scale(0.975,0.95)" font-size="11.2" font-weight="bold" text-anchor="middle" class="it">2<tspan font-family="Liberation Serif" font-style="italic" font-weight="normal" dx="1.2" font-size="12">θ</tspan> (degree)</text>
<text transform="translate(23,632.5) rotate(-90) scale(0.975,0.95)" font-size="11.2" font-weight="bold" text-anchor="middle" class="it">Intensity (arb. units)</text>
<text transform="translate(320.4,722.1) scale(0.975,1.07)" font-size="8.8" text-anchor="end" fill="#111"><tspan font-style="italic">C</tspan>2/<tspan font-style="italic">m</tspan> Li<tspan font-size="5.8" dy="2">3</tspan><tspan dy="-2">ScCl</tspan><tspan font-size="5.8" dy="2">6</tspan><tspan dy="-2"> (ccp)</tspan></text>
<text transform="translate(320.4,752.6) scale(0.975,1.07)" font-size="8.8" text-anchor="end" fill="#111"><tspan font-style="italic">P</tspan>3<tspan font-style="italic">m</tspan>1 Li<tspan font-size="5.8" dy="2">2</tspan><tspan dy="-2">ZrCl</tspan><tspan font-size="5.8" dy="2">6</tspan><tspan dy="-2"> (hcp)</tspan></text>
<line x1="390.7" y1="503" x2="680.7" y2="503" stroke="#2a2a2a" stroke-width="1.5"/>
<line x1="391.4" y1="503" x2="391.4" y2="762.4" stroke="#2a2a2a" stroke-width="1.5"/>
<line x1="680" y1="503" x2="680" y2="762.4" stroke="#2a2a2a" stroke-width="1.5"/>
<line x1="390.7" y1="733.7" x2="680.7" y2="733.7" stroke="#2a2a2a" stroke-width="1.4"/>
<line x1="390.7" y1="762.4" x2="680.7" y2="762.4" stroke="#2a2a2a" stroke-width="1.4"/>
<line x1="391.4" y1="762.4" x2="391.4" y2="766" stroke="#2a2a2a" stroke-width="1.2"/>
<text transform="translate(391.4,776.2) scale(0.975,1.07)" font-size="9" text-anchor="middle" font-weight="bold" font-style="normal" >10</text>
<line x1="412.01" y1="762.4" x2="412.01" y2="764.4" stroke="#2a2a2a" stroke-width="1.2"/>
<line x1="432.63" y1="762.4" x2="432.63" y2="766" stroke="#2a2a2a" stroke-width="1.2"/>
<text transform="translate(432.63,776.2) scale(0.975,1.07)" font-size="9" text-anchor="middle" font-weight="bold" font-style="normal" >20</text>
<line x1="453.25" y1="762.4" x2="453.25" y2="764.4" stroke="#2a2a2a" stroke-width="1.2"/>
<line x1="473.86" y1="762.4" x2="473.86" y2="766" stroke="#2a2a2a" stroke-width="1.2"/>
<text transform="translate(473.86,776.2) scale(0.975,1.07)" font-size="9" text-anchor="middle" font-weight="bold" font-style="normal" >30</text>
<line x1="494.47" y1="762.4" x2="494.47" y2="764.4" stroke="#2a2a2a" stroke-width="1.2"/>
<line x1="515.09" y1="762.4" x2="515.09" y2="766" stroke="#2a2a2a" stroke-width="1.2"/>
<text transform="translate(515.09,776.2) scale(0.975,1.07)" font-size="9" text-anchor="middle" font-weight="bold" font-style="normal" >40</text>
<line x1="535.7" y1="762.4" x2="535.7" y2="764.4" stroke="#2a2a2a" stroke-width="1.2"/>
<line x1="556.32" y1="762.4" x2="556.32" y2="766" stroke="#2a2a2a" stroke-width="1.2"/>
<text transform="translate(556.32,776.2) scale(0.975,1.07)" font-size="9" text-anchor="middle" font-weight="bold" font-style="normal" >50</text>
<line x1="576.93" y1="762.4" x2="576.93" y2="764.4" stroke="#2a2a2a" stroke-width="1.2"/>
<line x1="597.55" y1="762.4" x2="597.55" y2="766" stroke="#2a2a2a" stroke-width="1.2"/>
<text transform="translate(597.55,776.2) scale(0.975,1.07)" font-size="9" text-anchor="middle" font-weight="bold" font-style="normal" >60</text>
<line x1="618.16" y1="762.4" x2="618.16" y2="764.4" stroke="#2a2a2a" stroke-width="1.2"/>
<line x1="638.78" y1="762.4" x2="638.78" y2="766" stroke="#2a2a2a" stroke-width="1.2"/>
<text transform="translate(638.78,776.2) scale(0.975,1.07)" font-size="9" text-anchor="middle" font-weight="bold" font-style="normal" >70</text>
<line x1="659.39" y1="762.4" x2="659.39" y2="764.4" stroke="#2a2a2a" stroke-width="1.2"/>
<line x1="680.01" y1="762.4" x2="680.01" y2="766" stroke="#2a2a2a" stroke-width="1.2"/>
<text transform="translate(680.01,776.2) scale(0.975,1.07)" font-size="9" text-anchor="middle" font-weight="bold" font-style="normal" >80</text>
<line x1="410.8" y1="733.7" x2="410.8" y2="726.3" stroke="#000" stroke-width="1.0"/>
<line x1="411.4" y1="733.7" x2="411.4" y2="729.7" stroke="#000" stroke-width="1.0"/>
<line x1="415.7" y1="733.7" x2="415.7" y2="731.7" stroke="#000" stroke-width="1.0"/>
<line x1="416.3" y1="733.7" x2="416.3" y2="730.6" stroke="#000" stroke-width="1.0"/>
<line x1="419.3" y1="733.7" x2="419.3" y2="728" stroke="#000" stroke-width="1.0"/>
<line x1="428.1" y1="733.7" x2="428.1" y2="730.2" stroke="#000" stroke-width="1.0"/>
<line x1="440.1" y1="733.7" x2="440.1" y2="731.3" stroke="#000" stroke-width="1.0"/>
<line x1="448.1" y1="733.7" x2="448.1" y2="732.9" stroke="#000" stroke-width="1.0"/>
<line x1="455.5" y1="733.7" x2="455.5" y2="732.7" stroke="#000" stroke-width="1.0"/>
<line x1="467.2" y1="733.7" x2="467.2" y2="732.5" stroke="#000" stroke-width="1.0"/>
<line x1="472.6" y1="733.7" x2="472.6" y2="720.6" stroke="#000" stroke-width="1.0"/>
<line x1="473.5" y1="733.7" x2="473.5" y2="727.1" stroke="#000" stroke-width="1.0"/>
<line x1="492.3" y1="733.7" x2="492.3" y2="708.5" stroke="#000" stroke-width="1.0"/>
<line x1="492.9" y1="733.7" x2="492.9" y2="720.7" stroke="#000" stroke-width="1.0"/>
<line x1="497.6" y1="733.7" x2="497.6" y2="732.7" stroke="#000" stroke-width="1.0"/>
<line x1="523.1" y1="733.7" x2="523.1" y2="732.9" stroke="#000" stroke-width="1.0"/>
<line x1="529.1" y1="733.7" x2="529.1" y2="732.9" stroke="#000" stroke-width="1.0"/>
<line x1="533.1" y1="733.7" x2="533.1" y2="732.7" stroke="#000" stroke-width="1.0"/>
<line x1="536.8" y1="733.7" x2="536.8" y2="732.3" stroke="#000" stroke-width="1.0"/>
<line x1="539.1" y1="733.7" x2="539.1" y2="732.9" stroke="#000" stroke-width="1.0"/>
<line x1="554" y1="733.7" x2="554" y2="727.7" stroke="#000" stroke-width="1.0"/>
<line x1="554.5" y1="733.7" x2="554.5" y2="725.7" stroke="#000" stroke-width="1.0"/>
<line x1="557.1" y1="733.7" x2="557.1" y2="732.9" stroke="#000" stroke-width="1.0"/>
<line x1="578.1" y1="733.7" x2="578.1" y2="732.9" stroke="#000" stroke-width="1.0"/>
<line x1="593.1" y1="733.7" x2="593.1" y2="732.2" stroke="#000" stroke-width="1.0"/>
<line x1="604.8" y1="733.7" x2="604.8" y2="729.8" stroke="#000" stroke-width="1.0"/>
<line x1="605.4" y1="733.7" x2="605.4" y2="731.7" stroke="#000" stroke-width="1.0"/>
<line x1="623.1" y1="733.7" x2="623.1" y2="733.1" stroke="#000" stroke-width="1.0"/>
<line x1="649.9" y1="733.7" x2="649.9" y2="732.2" stroke="#000" stroke-width="1.0"/>
<line x1="658.1" y1="733.7" x2="658.1" y2="733.1" stroke="#000" stroke-width="1.0"/>
<line x1="411.5" y1="762.4" x2="411.5" y2="761" stroke="#000" stroke-width="1.0"/>
<line x1="416.5" y1="762.4" x2="416.5" y2="743.9" stroke="#000" stroke-width="1.0"/>
<line x1="422.6" y1="762.4" x2="422.6" y2="761.6" stroke="#000" stroke-width="1.0"/>
<line x1="427" y1="762.4" x2="427" y2="761.6" stroke="#000" stroke-width="1.0"/>
<line x1="441" y1="762.4" x2="441" y2="761.6" stroke="#000" stroke-width="1.0"/>
<line x1="448.9" y1="762.4" x2="448.9" y2="761.6" stroke="#000" stroke-width="1.0"/>
<line x1="474.4" y1="762.4" x2="474.4" y2="760.3" stroke="#000" stroke-width="1.0"/>
<line x1="482.1" y1="762.4" x2="482.1" y2="738.2" stroke="#000" stroke-width="1.0"/>
<line x1="484.7" y1="762.4" x2="484.7" y2="760.9" stroke="#000" stroke-width="1.0"/>
<line x1="491.6" y1="762.4" x2="491.6" y2="759.2" stroke="#000" stroke-width="1.0"/>
<line x1="521.9" y1="762.4" x2="521.9" y2="749.3" stroke="#000" stroke-width="1.0"/>
<line x1="529.8" y1="762.4" x2="529.8" y2="760.1" stroke="#000" stroke-width="1.0"/>
<line x1="535.5" y1="762.4" x2="535.5" y2="759.2" stroke="#000" stroke-width="1.0"/>
<line x1="555.6" y1="762.4" x2="555.6" y2="753.3" stroke="#000" stroke-width="1.0"/>
<line x1="572.5" y1="762.4" x2="572.5" y2="759.6" stroke="#000" stroke-width="1.0"/>
<line x1="575.6" y1="762.4" x2="575.6" y2="758.1" stroke="#000" stroke-width="1.0"/>
<line x1="599.3" y1="762.4" x2="599.3" y2="758.9" stroke="#000" stroke-width="1.0"/>
<line x1="608.4" y1="762.4" x2="608.4" y2="761.4" stroke="#000" stroke-width="1.0"/>
<line x1="626.2" y1="762.4" x2="626.2" y2="760.4" stroke="#000" stroke-width="1.0"/>
<line x1="653.1" y1="762.4" x2="653.1" y2="761.7" stroke="#000" stroke-width="1.0"/>
<line x1="668.3" y1="762.4" x2="668.3" y2="761.4" stroke="#000" stroke-width="1.0"/>
<line x1="602" y1="745.4" x2="606.5" y2="745.4" stroke="#222" stroke-width="0.75"/>
<text transform="translate(535.7,788.9) scale(0.975,0.95)" font-size="11.2" font-weight="bold" text-anchor="middle" class="it">2<tspan font-family="Liberation Serif" font-style="italic" font-weight="normal" dx="1.2" font-size="12">θ</tspan> (degree)</text>
<text transform="translate(376.1,632.5) rotate(-90) scale(0.975,0.95)" font-size="11.2" font-weight="bold" text-anchor="middle" class="it">Intensity (arb. units)</text>
<text transform="translate(672.2,722.1) scale(0.975,1.07)" font-size="8.8" text-anchor="end" fill="#111"><tspan font-style="italic">C</tspan>2/<tspan font-style="italic">m</tspan> Li<tspan font-size="5.8" dy="2">3</tspan><tspan dy="-2">ScCl</tspan><tspan font-size="5.8" dy="2">6</tspan><tspan dy="-2"> (ccp)</tspan></text>
<text transform="translate(672.2,752.6) scale(0.975,1.07)" font-size="8.8" text-anchor="end" fill="#111"><tspan font-style="italic">P</tspan>3<tspan font-style="italic">m</tspan>1 Li<tspan font-size="5.8" dy="2">2</tspan><tspan dy="-2">ZrCl</tspan><tspan font-size="5.8" dy="2">6</tspan><tspan dy="-2"> (hcp)</tspan></text>
<path d="M38.3,538 C39.22,537.72 41.67,536.83 43.8,536.3 C45.93,535.77 48.92,535.53 51.1,534.8 C53.28,534.07 55.08,533.12 56.9,531.9 C58.72,530.68 60.78,528.47 62,527.5 C63.22,526.53 63.47,526.38 64.2,526.1 C64.93,525.82 65.3,526.12 66.4,525.8 C67.5,525.48 69.35,524.33 70.8,524.2 C72.25,524.07 73.52,524.25 75.1,525 C76.68,525.75 78.22,527.18 80.3,528.7 C82.38,530.22 85.17,532.47 87.6,534.1 C90.03,535.73 92.23,537.17 94.9,538.5 C97.57,539.83 100.68,540.88 103.6,542.1 C106.52,543.32 109.72,544.78 112.4,545.8 C115.08,546.82 117.52,547.65 119.7,548.2 C121.88,548.75 124.18,549.2 125.5,549.1 C126.82,549 127.03,548.28 127.6,547.6 C128.17,546.92 128.45,544.9 128.9,545 C129.35,545.1 129.75,547.32 130.3,548.2 C130.85,549.08 131.52,549.82 132.2,550.3 C132.88,550.78 132.33,550.62 134.4,551.1 C136.47,551.58 139.5,552.65 144.6,553.2 C149.7,553.75 160.98,554.52 165,554.4 C169.02,554.28 167.48,552.45 168.7,552.5 C169.92,552.55 170.23,554.4 172.3,554.7 C174.37,555 176.47,554.13 181.1,554.3 C185.73,554.47 196.52,555.75 200.1,555.7 C203.68,555.65 201.63,553.92 202.6,554 C203.57,554.08 202.92,555.83 205.9,556.2 C208.88,556.57 216.48,556.08 220.5,556.2 C224.52,556.32 225.8,556.7 230,556.9 C234.2,557.1 239.43,557.22 245.7,557.4 C251.97,557.58 260.3,557.87 267.6,558 C274.9,558.13 279.65,558.08 289.5,558.2 C299.35,558.32 320.5,558.62 326.7,558.7" fill="none" stroke="#0000FF" stroke-width="1.4" stroke-linejoin="round" stroke-linecap="round"/>
<path d="M38.3,575.7 C39.22,575.42 41.67,574.45 43.8,574 C45.93,573.55 48.92,573.62 51.1,573 C53.28,572.38 54.97,571.55 56.9,570.3 C58.83,569.05 60.27,566.83 62.7,565.5 C65.13,564.17 69.07,562.53 71.5,562.3 C73.93,562.07 74.87,562.77 77.3,564.1 C79.73,565.43 83.17,568.17 86.1,570.3 C89.03,572.43 91.98,575.07 94.9,576.9 C97.82,578.73 100.68,579.97 103.6,581.3 C106.52,582.63 109.72,583.88 112.4,584.9 C115.08,585.92 117.4,586.78 119.7,587.4 C122,588.02 124.75,588.65 126.2,588.6 C127.65,588.55 127.67,587.05 128.4,587.1 C129.13,587.15 129.5,588.37 130.6,588.9 C131.7,589.43 132.67,589.75 135,590.3 C137.33,590.85 139.6,591.62 144.6,592.2 C149.6,592.78 160.98,593.72 165,593.8 C169.02,593.88 167.48,592.65 168.7,592.7 C169.92,592.75 167.07,593.73 172.3,594.1 C177.53,594.47 195.05,594.97 200.1,594.9 C205.15,594.83 201.63,593.67 202.6,593.7 C203.57,593.73 201.33,594.72 205.9,595.1 C210.47,595.48 217.65,595.7 230,596 C242.35,596.3 263.88,596.65 280,596.9 C296.12,597.15 318.92,597.4 326.7,597.5" fill="none" stroke="#0000FF" stroke-width="1.4" stroke-linejoin="round" stroke-linecap="round"/>
<path d="M38.3,609.7 C39.22,609.33 41.43,608.15 43.8,607.5 C46.17,606.85 50.07,606.65 52.5,605.8 C54.93,604.95 56.45,603.7 58.4,602.4 C60.35,601.1 62.02,599.15 64.2,598 C66.38,596.85 69.32,595.62 71.5,595.5 C73.68,595.38 75.12,596.03 77.3,597.3 C79.48,598.57 81.92,601.03 84.6,603.1 C87.28,605.17 90.23,607.75 93.4,609.7 C96.57,611.65 100.43,613.22 103.6,614.8 C106.77,616.38 109.97,618.17 112.4,619.2 C114.83,620.23 116.87,620.8 118.2,621 C119.53,621.2 119.42,620.17 120.4,620.4 C121.38,620.63 122.5,621.87 124.1,622.4 C125.7,622.93 128.05,623.2 130,623.6 C131.95,624 134.22,624.72 135.8,624.8 C137.38,624.88 138.28,623.85 139.5,624.1 C140.72,624.35 139.82,625.7 143.1,626.3 C146.38,626.9 149.95,627.22 159.2,627.7 C168.45,628.18 191.55,629.12 198.6,629.2 C205.65,629.28 200.28,628.08 201.5,628.2 C202.72,628.32 201.98,629.62 205.9,629.9 C209.82,630.18 214.32,629.73 225,629.9 C235.68,630.07 253.13,630.52 270,630.9 C286.87,631.28 316.83,631.98 326.2,632.2" fill="none" stroke="#FF0000" stroke-width="1.4" stroke-linejoin="round" stroke-linecap="round"/>
<path d="M38.3,645.1 C39.45,644.67 42.83,643.22 45.2,642.5 C47.57,641.78 50.3,641.58 52.5,640.8 C54.7,640.02 56.45,639.02 58.4,637.8 C60.35,636.58 62.02,634.67 64.2,633.5 C66.38,632.33 69.32,631 71.5,630.8 C73.68,630.6 75.12,631.13 77.3,632.3 C79.48,633.47 81.92,635.73 84.6,637.8 C87.28,639.87 90.23,642.7 93.4,644.7 C96.57,646.7 99.7,648.17 103.6,649.8 C107.5,651.43 113.88,653.88 116.8,654.5 C119.72,655.12 119.88,653.25 121.1,653.5 C122.32,653.75 122.62,655.18 124.1,656 C125.58,656.82 128.28,657.88 130,658.4 C131.72,658.92 133.3,659.22 134.4,659.1 C135.5,658.98 135.92,657.7 136.6,657.7 C137.28,657.7 137.77,659.1 138.5,659.1 C139.23,659.1 139.98,657.53 141,657.7 C142.02,657.87 141.57,659.38 144.6,660.1 C147.63,660.82 150.2,661.5 159.2,662 C168.2,662.5 191.18,663.1 198.6,663.1 C206.02,663.1 202,661.88 203.7,662 C205.4,662.12 205.42,663.28 208.8,663.8 C212.18,664.32 220.4,664.98 224,665.1 C227.6,665.22 228.23,664.45 230.4,664.5 C232.57,664.55 228.73,665.15 237,665.4 C245.27,665.65 265.13,665.78 280,666 C294.87,666.22 318.5,666.58 326.2,666.7" fill="none" stroke="#0000FF" stroke-width="1.4" stroke-linejoin="round" stroke-linecap="round"/>
<path d="M38.3,681.2 C39.7,680.78 44.22,679.27 46.7,678.7 C49.18,678.13 51.02,678.48 53.2,677.8 C55.38,677.12 57.72,675.73 59.8,674.6 C61.88,673.47 63.87,671.85 65.7,671 C67.53,670.15 69.23,669.63 70.8,669.5 C72.37,669.37 73.28,669.35 75.1,670.2 C76.92,671.05 79.38,673.02 81.7,674.6 C84.02,676.18 86.32,678.12 89,679.7 C91.68,681.28 94.63,682.72 97.8,684.1 C100.97,685.48 104.83,686.78 108,688 C111.17,689.22 114.73,690.95 116.8,691.4 C118.87,691.85 119.18,690.38 120.4,690.7 C121.62,691.02 122.5,692.6 124.1,693.3 C125.7,694 128.17,694.52 130,694.9 C131.83,695.28 134,695.65 135.1,695.6 C136.2,695.55 135.75,694.77 136.6,694.6 C137.45,694.43 138.87,694.27 140.2,694.6 C141.53,694.93 139.63,696.03 144.6,696.6 C149.57,697.17 161,697.62 170,698 C179,698.38 193.27,698.92 198.6,698.9 C203.93,698.88 200.78,697.82 202,697.9 C203.22,697.98 202.07,698.98 205.9,699.4 C209.73,699.82 218.88,700.3 225,700.4 C231.12,700.5 233.43,699.9 242.6,700 C251.77,700.1 266.07,700.68 280,701 C293.93,701.32 318.5,701.75 326.2,701.9" fill="none" stroke="#0000FF" stroke-width="1.4" stroke-linejoin="round" stroke-linecap="round"/>
<path d="M391.4,540.4 C392.53,540.08 395.73,539.07 398.2,538.5 C400.67,537.93 403.77,537.82 406.2,537 C408.63,536.18 410.6,534.82 412.8,533.6 C415,532.38 417.45,530.62 419.4,529.7 C421.35,528.78 422.8,528.15 424.5,528.1 C426.2,528.05 427.42,528.17 429.6,529.4 C431.78,530.63 434.8,533.55 437.6,535.5 C440.4,537.45 443.23,539.38 446.4,541.1 C449.57,542.82 453.2,544.3 456.6,545.8 C460,547.3 463.63,548.97 466.8,550.1 C469.97,551.23 473.4,552.02 475.6,552.6 C477.8,553.18 478.1,553.1 480,553.6 C481.9,554.1 485.53,555.37 487,555.6 C488.47,555.83 488.22,554.95 488.8,555 C489.38,555.05 489.87,555.83 490.5,555.9 C491.13,555.97 491.72,555.25 492.6,555.4 C493.48,555.55 492.07,556.28 495.8,556.8 C499.53,557.32 505.95,558.07 515,558.5 C524.05,558.93 543.38,559.4 550.1,559.4 C556.82,559.4 553.85,558.42 555.3,558.5 C556.75,558.58 551.35,559.45 558.8,559.9 C566.25,560.35 579.88,560.75 600,561.2 C620.12,561.65 666.25,562.37 679.5,562.6" fill="none" stroke="#B870B8" stroke-width="1.4" stroke-linejoin="round" stroke-linecap="round"/>
<path d="M391.4,578 C392.53,577.55 395.73,575.98 398.2,575.3 C400.67,574.62 403.77,574.75 406.2,573.9 C408.63,573.05 410.6,571.6 412.8,570.2 C415,568.8 417.45,566.6 419.4,565.5 C421.35,564.4 422.8,563.67 424.5,563.6 C426.2,563.53 427.42,563.87 429.6,565.1 C431.78,566.33 434.8,568.93 437.6,571 C440.4,573.07 443.23,575.57 446.4,577.5 C449.57,579.43 453.2,580.95 456.6,582.6 C460,584.25 464.37,586.35 466.8,587.4 C469.23,588.45 470.1,588.72 471.2,588.9 C472.3,589.08 472.42,588.15 473.4,588.5 C474.38,588.85 476,590.52 477.1,591 C478.2,591.48 478.2,591.13 480,591.4 C481.8,591.67 485.85,592.45 487.9,592.6 C489.95,592.75 490.98,592 492.3,592.3 C493.62,592.6 492.02,593.77 495.8,594.4 C499.58,595.03 505.67,595.63 515,596.1 C524.33,596.57 545.08,597.17 551.8,597.2 C558.52,597.23 554.13,596.25 555.3,596.3 C556.47,596.35 551.35,597.1 558.8,597.5 C566.25,597.9 579.88,598.23 600,598.7 C620.12,599.17 666.25,600.03 679.5,600.3" fill="none" stroke="#FF0000" stroke-width="1.4" stroke-linejoin="round" stroke-linecap="round"/>
<path d="M391.4,609.2 C392.53,608.9 395.73,607.87 398.2,607.4 C400.67,606.93 403.88,607.05 406.2,606.4 C408.52,605.75 410.27,604.67 412.1,603.5 C413.93,602.33 415.13,600.45 417.2,599.4 C419.27,598.35 422.43,597.33 424.5,597.2 C426.57,597.07 427.42,597.38 429.6,598.6 C431.78,599.82 434.8,602.47 437.6,604.5 C440.4,606.53 443.23,608.98 446.4,610.8 C449.57,612.62 453.2,613.9 456.6,615.4 C460,616.9 464.25,618.95 466.8,619.8 C469.35,620.65 470.43,620.13 471.9,620.5 C473.37,620.87 474.13,621.87 475.6,622 C477.07,622.13 479.12,620.93 480.7,621.3 C482.28,621.67 483.75,623.93 485.1,624.2 C486.45,624.47 487.9,622.92 488.8,622.9 C489.7,622.88 489.92,624.1 490.5,624.1 C491.08,624.1 491.42,622.6 492.3,622.9 C493.18,623.2 492.02,625.1 495.8,625.9 C499.58,626.7 510.77,627.52 515,627.7 C519.23,627.88 519.53,626.97 521.2,627 C522.87,627.03 519.9,627.62 525,627.9 C530.1,628.18 546.8,628.85 551.8,628.7 C556.8,628.55 553.83,626.93 555,627 C556.17,627.07 551.3,628.55 558.8,629.1 C566.3,629.65 579.88,629.85 600,630.3 C620.12,630.75 666.25,631.55 679.5,631.8" fill="none" stroke="#B870B8" stroke-width="1.4" stroke-linejoin="round" stroke-linecap="round"/>
<path d="M391.4,646.8 C392.53,646.48 395.85,645.33 398.2,644.9 C400.55,644.47 403.18,644.85 405.5,644.2 C407.82,643.55 410.03,642.15 412.1,641 C414.17,639.85 415.95,638.17 417.9,637.3 C419.85,636.43 421.97,635.85 423.8,635.8 C425.63,635.75 426.6,635.78 428.9,637 C431.2,638.22 434.68,641.1 437.6,643.1 C440.52,645.1 443.23,647.22 446.4,649 C449.57,650.78 452.83,652.22 456.6,653.8 C460.37,655.38 466.37,657.9 469,658.5 C471.63,659.1 471.3,657.17 472.4,657.4 C473.5,657.63 474.1,659.35 475.6,659.9 C477.1,660.45 479.5,660.32 481.4,660.7 C483.3,661.08 485.25,662.23 487,662.2 C488.75,662.17 490.43,660.25 491.9,660.5 C493.37,660.75 490.48,662.8 495.8,663.7 C501.12,664.6 514.47,665.42 523.8,665.9 C533.13,666.38 546.6,666.77 551.8,666.6 C557,666.43 553.83,664.8 555,664.9 C556.17,665 551.3,666.68 558.8,667.2 C566.3,667.72 579.88,667.57 600,668 C620.12,668.43 666.25,669.5 679.5,669.8" fill="none" stroke="#B870B8" stroke-width="1.4" stroke-linejoin="round" stroke-linecap="round"/>
<path d="M391.4,680.8 C392.53,680.53 395.85,679.6 398.2,679.2 C400.55,678.8 403.18,679.07 405.5,678.4 C407.82,677.73 410.03,676.42 412.1,675.2 C414.17,673.98 415.95,672.12 417.9,671.1 C419.85,670.08 421.97,669.27 423.8,669.1 C425.63,668.93 426.6,668.83 428.9,670.1 C431.2,671.37 434.68,674.82 437.6,676.7 C440.52,678.58 443.23,679.95 446.4,681.4 C449.57,682.85 452.7,683.88 456.6,685.4 C460.5,686.92 467.12,689.82 469.8,690.5 C472.48,691.18 471.48,689.13 472.7,689.5 C473.92,689.87 475.88,692.1 477.1,692.7 C478.32,693.3 478.35,692.83 480,693.1 C481.65,693.37 484.9,694.38 487,694.3 C489.1,694.22 491,692.37 492.6,692.6 C494.2,692.83 491.4,694.88 496.6,695.7 C501.8,696.52 514.6,697.07 523.8,697.5 C533,697.93 546.55,698.4 551.8,698.3 C557.05,698.2 554.13,696.8 555.3,696.9 C556.47,697 551.35,698.37 558.8,698.9 C566.25,699.43 579.88,699.68 600,700.1 C620.12,700.52 666.25,701.18 679.5,701.4" fill="none" stroke="#B870B8" stroke-width="1.4" stroke-linejoin="round" stroke-linecap="round"/>
<text transform="translate(322.8,517.8) scale(0.975,1.07)" font-size="8.9" text-anchor="end" fill="#111"><tspan font-style="italic">x</tspan>Li<tspan font-size="5.8" dy="2">2</tspan><tspan dy="-2">O-0.75ZrCl</tspan><tspan font-size="5.8" dy="2">4</tspan><tspan dy="-2">-0.25AlCl</tspan><tspan font-size="5.8" dy="2">3</tspan></text>
<text transform="translate(320.0,554.5) scale(0.975,1.07)" font-size="8.8" text-anchor="end" fill="#111"><tspan font-style="italic">x</tspan> = 1.0</text>
<text transform="translate(320.0,591.9) scale(0.975,1.07)" font-size="8.8" text-anchor="end" fill="#111"><tspan font-style="italic">x</tspan> = 1.2</text>
<text transform="translate(320.0,626.8) scale(0.975,1.07)" font-size="8.8" text-anchor="end" fill="#111"><tspan font-style="italic">x</tspan> = 1.4</text>
<text transform="translate(320.0,661) scale(0.975,1.07)" font-size="8.8" text-anchor="end" fill="#111"><tspan font-style="italic">x</tspan> = 1.6</text>
<text transform="translate(320.0,694.7) scale(0.975,1.07)" font-size="8.8" text-anchor="end" fill="#111"><tspan font-style="italic">x</tspan> = 1.8</text>
<text transform="translate(675.2,517.3) scale(0.975,1.07)" font-size="8.85" text-anchor="end" fill="#111">1.4Li<tspan font-size="5.8" dy="2">2</tspan><tspan dy="-2">O-(1-</tspan><tspan font-style="italic">y</tspan>)ZrCl<tspan font-size="5.8" dy="2">4</tspan><tspan dy="-2">-</tspan><tspan font-style="italic">y</tspan>AlCl<tspan font-size="5.8" dy="2">3</tspan></text>
<text transform="translate(645.8,556.4) scale(0.975,1.07)" font-size="8.8" text-anchor="start" fill="#111"><tspan font-style="italic">y</tspan> = 0.2</text>
<text transform="translate(645.8,593.4) scale(0.975,1.07)" font-size="8.8" text-anchor="start" fill="#111"><tspan font-style="italic">y</tspan> = 0.25</text>
<text transform="translate(645.8,624.3) scale(0.975,1.07)" font-size="8.8" text-anchor="start" fill="#111"><tspan font-style="italic">y</tspan> = 0.3</text>
<text transform="translate(645.8,663.6) scale(0.975,1.07)" font-size="8.8" text-anchor="start" fill="#111"><tspan font-style="italic">y</tspan> = 0.4</text>
<text transform="translate(645.8,695.2) scale(0.975,1.07)" font-size="8.8" text-anchor="start" fill="#111"><tspan font-style="italic">y</tspan> = 0.5</text>
<text transform="translate(2.6,497.7) scale(0.975,1.07)" font-size="11" text-anchor="start" font-weight="bold" font-style="normal" >d</text>
<text transform="translate(344.8,497.9) scale(0.975,1.07)" font-size="11" text-anchor="start" font-weight="bold" font-style="normal" >e</text>
</svg></body></html>
